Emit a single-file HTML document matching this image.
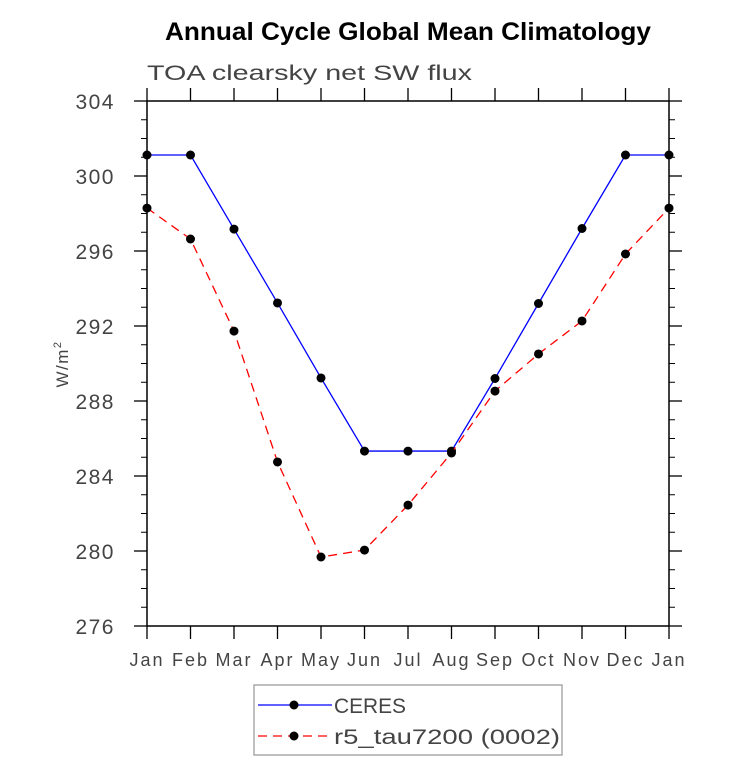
<!DOCTYPE html>
<html><head><meta charset="utf-8"><style>
body{margin:0;background:#fff;}
svg text{font-family:"Liberation Sans",sans-serif;}
</style></head><body>
<svg id="chart" width="733" height="777" xmlns="http://www.w3.org/2000/svg">
<text x="165" y="40" textLength="486" lengthAdjust="spacingAndGlyphs" font-size="25" font-weight="bold" fill="#000">Annual Cycle Global Mean Climatology</text>
<text x="147" y="80" textLength="325" lengthAdjust="spacingAndGlyphs" font-size="21" fill="#444">TOA clearsky net SW flux</text>
<text transform="translate(68,364) rotate(-90)" text-anchor="middle" font-size="17" letter-spacing="1.5" fill="#444">W/m<tspan dy="-7" font-size="11">2</tspan></text>
<g id="axes"></g>
<g id="marks"></g>
<g>
<rect x="254" y="685" width="308" height="70" fill="#fff" stroke="#aaa" stroke-width="1.5"/>
<line x1="258" y1="705" x2="332" y2="705" stroke="#0000ff" stroke-width="1.3"/>
<circle cx="294" cy="705" r="4.5" fill="#000"/>
<text x="334" y="713" textLength="72" lengthAdjust="spacingAndGlyphs" font-size="21" fill="#444">CERES</text>
<line x1="258" y1="736" x2="332" y2="736" stroke="#ff0000" stroke-width="1.3" stroke-dasharray="9,6"/>
<circle cx="294" cy="736" r="4.5" fill="#000"/>
<text x="334" y="744" textLength="226" lengthAdjust="spacingAndGlyphs" font-size="21" fill="#444">r5_tau7200 (0002)</text>
</g>
</svg>
<script>
const months=["Jan","Feb","Mar","Apr","May","Jun","Jul","Aug","Sep","Oct","Nov","Dec","Jan"];
const ceres=[301.12,301.12,297.17,293.23,289.23,285.33,285.33,285.33,289.2,293.2,297.2,301.12,301.12];
const r5=[298.29,296.64,291.73,284.75,279.68,280.05,282.45,285.23,288.53,290.51,292.27,295.84,298.29];
const yTicks=[276,280,284,288,292,296,300,304];
const NS="http://www.w3.org/2000/svg";
const L=147,R=669,T=101,B=626,ymin=276,ymax=304;
const xs=i=>L+(R-L)*i/(months.length-1);
const ys=v=>B-(v-ymin)/(ymax-ymin)*(B-T);
function mk(tag,attrs,parent){const e=document.createElementNS(NS,tag);for(const k in attrs)e.setAttribute(k,attrs[k]);parent.appendChild(e);return e;}
const ax=document.getElementById('axes'),mg=document.getElementById('marks');
const frame=mk('rect',{x:L,y:T,width:R-L,height:B-T,fill:'none',stroke:'#000','stroke-width':1.5},ax);


months.forEach((m,i)=>{const x=xs(i);
mk('line',{x1:x,y1:B,x2:x,y2:B+13,stroke:'#000','stroke-width':1.3},ax);
mk('line',{x1:x,y1:T,x2:x,y2:T-13,stroke:'#000','stroke-width':1.3},ax);
const t=mk('text',{x:x,y:B+40,'text-anchor':'middle','font-size':18,'letter-spacing':2,fill:'#444'},ax);t.textContent=m;

});
for(let v=ymin;v<=ymax;v++){const y=ys(v);const major=(v-ymin)%4===0;const len=major?13:6;
mk('line',{x1:L,y1:y,x2:L-len,y2:y,stroke:'#000','stroke-width':major?1.3:1},ax);
mk('line',{x1:R,y1:y,x2:R+len,y2:y,stroke:'#000','stroke-width':major?1.3:1},ax);}
yTicks.forEach(v=>{const t=mk('text',{x:L-32,y:ys(v)+8,'text-anchor':'end','font-size':21,'letter-spacing':1.5,fill:'#444'},ax);t.textContent=v;

});
function series(vals,color,dash,name){
const p=mk('polyline',{points:vals.map((v,i)=>xs(i)+','+ys(v)).join(' '),fill:'none',stroke:color,'stroke-width':1.3,'stroke-dasharray':dash},mg);


vals.forEach((v,i)=>{const c=mk('circle',{cx:xs(i),cy:ys(v),r:4.5,fill:'#000'},mg);

});}
series(ceres,'#0000ff','none','ceres');
series(r5,'#ff0000','9,6','r5');
</script>
</body></html>
